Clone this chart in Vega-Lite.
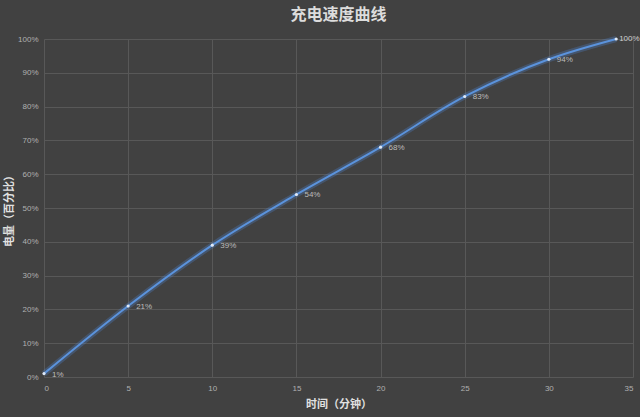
{
  "$schema": "https://vega.github.io/schema/vega-lite/v6.json",
  "autosize": {"type": "none"},
  "width": 589,
  "height": 338,
  "padding": {"left": 44, "top": 39, "right": 7, "bottom": 40},
  "background": "#414141",
  "title": {
    "text": "充电速度曲线",
    "fontSize": 16,
    "fontWeight": "bold",
    "color": "#dcdcdc",
    "font": "Noto Sans CJK SC",
    "offset": 4,
    "anchor": "middle"
  },
  "config": {
    "view": {"stroke": null},
    "axis": {
      "labelColor": "#b0b0b0",
      "labelFont": "Liberation Sans",
      "labelFontSize": 8,
      "titleColor": "#e0e0e0",
      "titleFont": "Noto Sans CJK SC",
      "titleFontSize": 11,
      "titleFontWeight": "bold",
      "gridColor": "#585858",
      "gridWidth": 1,
      "domain": false,
      "ticks": false
    }
  },
  "data": {
    "values": [
      {"t": 0, "p": 1, "label": "1%"},
      {"t": 5, "p": 21, "label": "21%"},
      {"t": 10, "p": 39, "label": "39%"},
      {"t": 15, "p": 54, "label": "54%"},
      {"t": 20, "p": 68, "label": "68%"},
      {"t": 25, "p": 83, "label": "83%"},
      {"t": 30, "p": 94, "label": "94%"},
      {"t": 34, "p": 100, "label": "100%"}
    ]
  },
  "encoding": {
    "x": {
      "field": "t",
      "type": "quantitative",
      "scale": {"domain": [0, 35], "nice": false},
      "axis": {"values": [0, 5, 10, 15, 20, 25, 30, 35], "title": "时间（分钟）", "labelPadding": 7, "titlePadding": 6}
    },
    "y": {
      "field": "p",
      "type": "quantitative",
      "scale": {"domain": [0, 100], "nice": false},
      "axis": {"values": [0, 10, 20, 30, 40, 50, 60, 70, 80, 90, 100], "labelExpr": "datum.value + '%'", "title": "电量（百分比）", "labelPadding": 6, "titlePadding": 3}
    }
  },
  "layer": [
    {"mark": {"type": "line", "interpolate": "monotone", "stroke": "#4f86d0", "strokeWidth": 6, "opacity": 0.3}},
    {"mark": {"type": "line", "interpolate": "monotone", "stroke": "#5b93dc", "strokeWidth": 2}},
    {"mark": {"type": "point", "filled": true, "size": 10, "color": "#dfe9f7", "opacity": 1}},
    {
      "transform": [{"filter": "datum.p < 100"}],
      "mark": {"type": "text", "align": "left", "dx": 8, "dy": 1, "fontSize": 8, "color": "#bcbcbc", "font": "Liberation Sans"},
      "encoding": {"text": {"field": "label", "type": "nominal"}}
    },
    {
      "transform": [{"filter": "datum.p >= 100"}],
      "mark": {"type": "text", "align": "left", "dx": 3, "dy": 0, "fontSize": 8, "color": "#d0d0d0", "font": "Liberation Sans"},
      "encoding": {"text": {"field": "label", "type": "nominal"}}
    }
  ]
}
